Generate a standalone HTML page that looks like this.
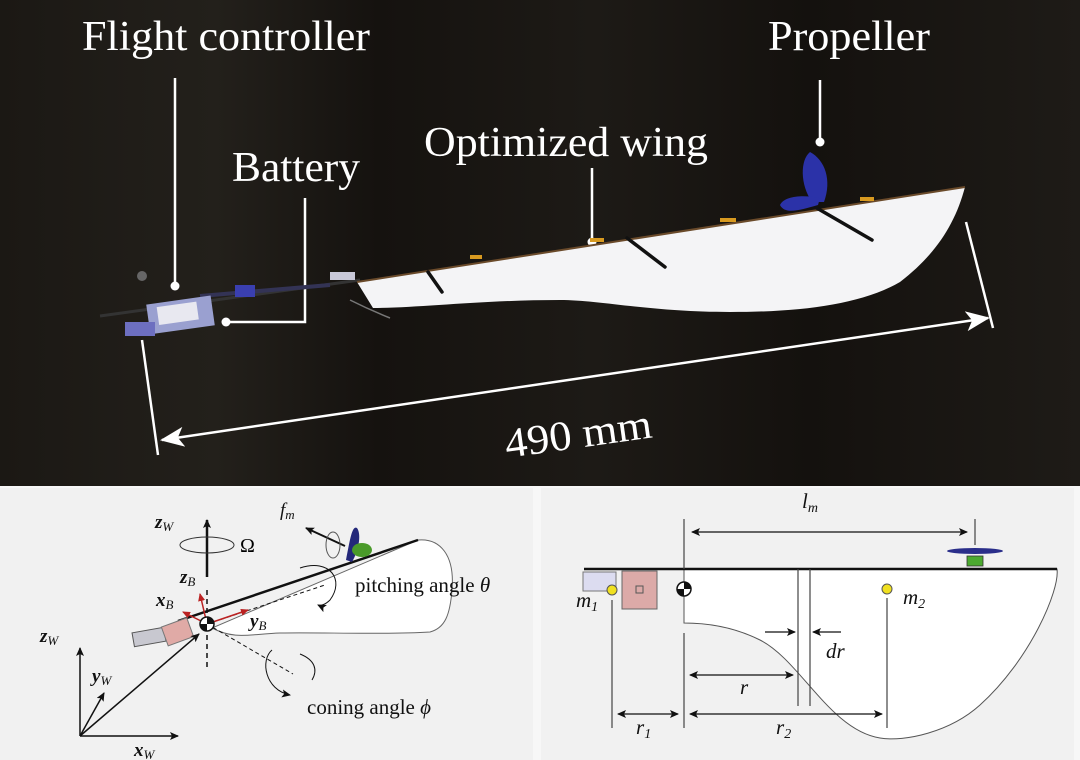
<!DOCTYPE html>
<html><head><meta charset="utf-8"><style>
html,body{margin:0;padding:0;background:#f3f3f3}
svg{display:block}
</style></head><body>
<svg width="1080" height="760" viewBox="0 0 1080 760" xmlns="http://www.w3.org/2000/svg" font-family="Liberation Serif, serif">
<defs>
<linearGradient id="bg" x1="0" x2="1" y1="0" y2="0">
<stop offset="0" stop-color="#1b1814"/><stop offset="0.2" stop-color="#23201b"/><stop offset="0.35" stop-color="#15120f"/><stop offset="0.55" stop-color="#1d1a16"/><stop offset="0.75" stop-color="#14110e"/><stop offset="1" stop-color="#1e1b17"/>
</linearGradient>
<marker id="ab" markerWidth="9" markerHeight="8" refX="8" refY="4" orient="auto-start-reverse" markerUnits="userSpaceOnUse"><path d="M0,0 L9,4 L0,8 L2,4z" fill="#111"/></marker>
<marker id="ar" markerWidth="8" markerHeight="7" refX="7" refY="3.5" orient="auto" markerUnits="userSpaceOnUse"><path d="M0,0 L8,3.5 L0,7z" fill="#b22"/></marker>
<marker id="wbig" markerWidth="24" markerHeight="20" refX="22" refY="10" orient="auto-start-reverse" markerUnits="userSpaceOnUse"><path d="M0,0 L24,10 L0,20 L6,10z" fill="#fff"/></marker>
</defs>
<!-- photo -->
<rect x="0" y="0" width="1080" height="486" fill="url(#bg)"/>
<g fill="#fff" font-size="42">
<text x="82" y="50" textLength="288" lengthAdjust="spacingAndGlyphs">Flight controller</text>
<text x="232" y="181" textLength="128" lengthAdjust="spacingAndGlyphs">Battery</text>
<text x="424" y="156" textLength="284" lengthAdjust="spacingAndGlyphs">Optimized wing</text>
<text x="768" y="50" textLength="162" lengthAdjust="spacingAndGlyphs">Propeller</text>
</g>
<g stroke="#fff" stroke-width="2.5" fill="none">
<line x1="175" y1="78" x2="175" y2="285"/>
<polyline points="305,198 305,322 226,322"/>
<line x1="592" y1="168" x2="592" y2="240"/>
<line x1="820" y1="80" x2="820" y2="142"/>
</g>
<g fill="#fff"><circle cx="175" cy="286" r="4.5"/><circle cx="226" cy="322" r="4.5"/><circle cx="592" cy="242" r="4.5"/><circle cx="820" cy="142" r="4.5"/></g>
<!-- body -->
<line x1="100" y1="316" x2="360" y2="280" stroke="#333" stroke-width="3"/>
<line x1="200" y1="296" x2="330" y2="285" stroke="#335" stroke-width="4"/>
<rect x="148" y="300" width="65" height="30" fill="#9aa0d0" transform="rotate(-8 180 315)"/>
<rect x="158" y="304" width="40" height="18" fill="#e8e8f0" transform="rotate(-8 180 315)"/>
<rect x="125" y="322" width="30" height="14" fill="#6d6fc0"/>
<rect x="235" y="285" width="20" height="12" fill="#3a3fb0"/>
<rect x="330" y="272" width="25" height="8" fill="#c8c8d8"/>
<circle cx="142" cy="276" r="5" fill="#666"/>
<path d="M350,300 Q370,310 390,318" stroke="#777" stroke-width="1.5" fill="none"/>
<!-- wing -->
<path d="M357,282 L965,187 C955,225 935,255 900,282 C860,305 800,312 730,312 C650,312 600,300 560,300 C480,300 420,308 373,308 Z" fill="#f4f4f6"/>
<line x1="357" y1="282" x2="965" y2="187" stroke="#6a4a2a" stroke-width="2"/>
<g stroke="#111" stroke-width="3.5" stroke-linecap="round">
<line x1="627" y1="238" x2="665" y2="267"/>
<line x1="815" y1="207" x2="872" y2="240"/>
<line x1="428" y1="272" x2="442" y2="292"/>
</g>
<path d="M812,202 C800,185 800,160 810,152 C825,160 832,180 824,202Z" fill="#2b32a8"/>
<path d="M818,205 C800,210 785,215 780,205 C785,195 805,195 820,198Z" fill="#2b32a8"/>
<g fill="#d89a20"><rect x="590" y="238" width="14" height="4"/><rect x="720" y="218" width="16" height="4"/><rect x="860" y="197" width="14" height="4"/><rect x="470" y="255" width="12" height="4"/></g>
<!-- dimension -->
<g stroke="#fff" stroke-width="2.5" fill="none">
<line x1="142" y1="340" x2="158" y2="455"/>
<line x1="966" y1="222" x2="993" y2="328"/>
<line x1="162" y1="440" x2="988" y2="318" marker-end="url(#wbig)" marker-start="url(#wbig)"/>
</g>
<text x="505" y="458" fill="#fff" font-size="42" transform="rotate(-8 505 445)" textLength="148" lengthAdjust="spacingAndGlyphs">490 mm</text>

<!-- bottom panels -->
<rect x="0" y="486" width="1080" height="274" fill="#f7f7f7"/>
<rect x="0" y="488" width="533" height="272" fill="#f1f1f1"/>
<rect x="541" y="488" width="533" height="272" fill="#f1f1f1"/>

<!-- left panel -->
<path d="M418,540 C440,538 455,555 452,590 C450,615 445,628 430,632 C380,635 320,632 280,633 C250,634 235,640 212,628 Z" fill="#fff" stroke="#666" stroke-width="1"/>
<line x1="178" y1="621" x2="418" y2="540" stroke="#111" stroke-width="2.5"/>
<line x1="207" y1="577" x2="207" y2="520" stroke="#111" stroke-width="2.5" marker-end="url(#ab)"/>
<ellipse cx="207" cy="545" rx="27" ry="8" fill="none" stroke="#333" stroke-width="1"/>
<text x="240" y="552" font-size="20">Ω</text>
<line x1="207" y1="590" x2="207" y2="668" stroke="#111" stroke-width="1.5" stroke-dasharray="5,4"/>
<line x1="207" y1="624" x2="325" y2="585" stroke="#111" stroke-width="1" stroke-dasharray="4,3"/>
<line x1="207" y1="624" x2="293" y2="674" stroke="#111" stroke-width="1" stroke-dasharray="4,3"/>
<path d="M272,650 C260,660 265,690 290,695" fill="none" stroke="#111" stroke-width="1" marker-end="url(#ab)"/>
<path d="M300,654 C315,660 318,670 312,680" fill="none" stroke="#111" stroke-width="1"/>
<path d="M300,568 C330,558 345,580 330,600 C325,605 320,606 318,605" fill="none" stroke="#111" stroke-width="1" marker-end="url(#ab)"/>
<g stroke="#b22" stroke-width="1.5">
<line x1="207" y1="624" x2="200" y2="594" marker-end="url(#ar)"/>
<line x1="207" y1="624" x2="183" y2="612" marker-end="url(#ar)"/>
<line x1="207" y1="624" x2="248" y2="610" marker-end="url(#ar)"/>
</g>
<circle cx="207" cy="624" r="7" fill="#fff" stroke="#111" stroke-width="1.5"/>
<path d="M207,617 A7,7 0 0 1 214,624 L207,624Z M207,631 A7,7 0 0 1 200,624 L207,624Z" fill="#111"/>
<rect x="133" y="630" width="32" height="14" fill="#c8c8d0" stroke="#555" stroke-width="1" transform="rotate(-10 149 637)"/>
<rect x="164" y="622" width="27" height="20" fill="#e0aaa6" stroke="#777" stroke-width="1" transform="rotate(-20 177 632)"/>
<line x1="345" y1="546" x2="306" y2="528" stroke="#111" stroke-width="2" marker-end="url(#ab)"/>
<ellipse cx="333" cy="545" rx="7" ry="13" fill="none" stroke="#555" stroke-width="1"/>
<path d="M346,560 C350,540 352,525 357,528 C362,535 358,552 352,562Z" fill="#24287a"/>
<ellipse cx="362" cy="550" rx="10" ry="7" fill="#4a9a2a"/>
<g font-style="italic" font-weight="bold" font-size="19" fill="#111">
<text x="155" y="528">z<tspan font-size="13" font-weight="normal" dy="3">W</tspan></text>
<text x="180" y="583">z<tspan font-size="13" font-weight="normal" dy="3">B</tspan></text>
<text x="156" y="606">x<tspan font-size="13" font-weight="normal" dy="3">B</tspan></text>
<text x="250" y="627">y<tspan font-size="13" font-weight="normal" dy="3">B</tspan></text>
<text x="40" y="642">z<tspan font-size="13" font-weight="normal" dy="3">W</tspan></text>
<text x="92" y="682">y<tspan font-size="13" font-weight="normal" dy="3">W</tspan></text>
<text x="134" y="756">x<tspan font-size="13" font-weight="normal" dy="3">W</tspan></text>
</g>
<text x="280" y="516" font-size="19" font-style="italic" fill="#111">f<tspan font-size="13" dy="3">m</tspan></text>
<text x="355" y="592" font-size="21" fill="#111">pitching angle  <tspan font-style="italic">θ</tspan></text>
<text x="307" y="714" font-size="21" fill="#111">coning angle   <tspan font-style="italic">ϕ</tspan></text>
<g stroke="#111" stroke-width="1.5">
<line x1="80" y1="736" x2="80" y2="648" marker-end="url(#ab)"/>
<line x1="80" y1="736" x2="178" y2="736" marker-end="url(#ab)"/>
<line x1="80" y1="736" x2="104" y2="693" marker-end="url(#ab)"/>
<line x1="80" y1="736" x2="199" y2="634" marker-end="url(#ab)"/>
</g>

<!-- right panel -->
<path d="M684,569 L1057,569 C1060,590 1030,660 980,705 C950,732 905,742 880,738 C830,730 800,660 760,640 C730,625 700,623 684,623 Z" fill="#fff" stroke="#555" stroke-width="1"/>
<line x1="584" y1="569" x2="1057" y2="569" stroke="#111" stroke-width="2.5"/>
<rect x="583" y="572" width="33" height="19" fill="#dcdcf0" stroke="#777" stroke-width="1"/>
<rect x="622" y="571" width="35" height="38" fill="#dcaaa8" stroke="#666" stroke-width="1"/>
<rect x="636" y="586" width="7" height="7" fill="none" stroke="#555" stroke-width="1"/>
<circle cx="612" cy="590" r="5" fill="#f0e020" stroke="#555" stroke-width="1"/>
<circle cx="887" cy="589" r="5" fill="#f0e020" stroke="#555" stroke-width="1"/>
<circle cx="684" cy="589" r="7" fill="#fff" stroke="#111" stroke-width="1.5"/>
<path d="M684,582 A7,7 0 0 1 691,589 L684,589Z M684,596 A7,7 0 0 1 677,589 L684,589Z" fill="#111"/>
<ellipse cx="975" cy="551" rx="28" ry="3" fill="#2a2e8a"/>
<rect x="967" y="556" width="16" height="10" fill="#4caa30" stroke="#333" stroke-width="0.8"/>
<g stroke="#444" stroke-width="1.2">
<line x1="684" y1="519" x2="684" y2="569"/>
<line x1="975" y1="519" x2="975" y2="545"/>
<line x1="798" y1="569" x2="798" y2="706"/>
<line x1="810" y1="569" x2="810" y2="706"/>
<line x1="612" y1="600" x2="612" y2="728"/>
<line x1="684" y1="633" x2="684" y2="728"/>
<line x1="887" y1="598" x2="887" y2="728"/>
</g>
<g stroke="#111" stroke-width="1.2">
<line x1="692" y1="532" x2="967" y2="532" marker-end="url(#ab)" marker-start="url(#ab)"/>
<line x1="765" y1="632" x2="795" y2="632" marker-end="url(#ab)"/>
<line x1="841" y1="632" x2="813" y2="632" marker-end="url(#ab)"/>
<line x1="690" y1="675" x2="793" y2="675" marker-end="url(#ab)" marker-start="url(#ab)"/>
<line x1="618" y1="714" x2="678" y2="714" marker-end="url(#ab)" marker-start="url(#ab)"/>
<line x1="690" y1="714" x2="882" y2="714" marker-end="url(#ab)" marker-start="url(#ab)"/>
</g>
<g font-size="21" font-style="italic" fill="#111">
<text x="802" y="508">l<tspan font-size="14" dy="4">m</tspan></text>
<text x="576" y="607">m<tspan font-size="14" dy="4">1</tspan></text>
<text x="903" y="604">m<tspan font-size="14" dy="4">2</tspan></text>
<text x="826" y="658">dr</text>
<text x="740" y="694">r</text>
<text x="636" y="734">r<tspan font-size="14" dy="4">1</tspan></text>
<text x="776" y="734">r<tspan font-size="14" dy="4">2</tspan></text>
</g>
</svg>
</body></html>
